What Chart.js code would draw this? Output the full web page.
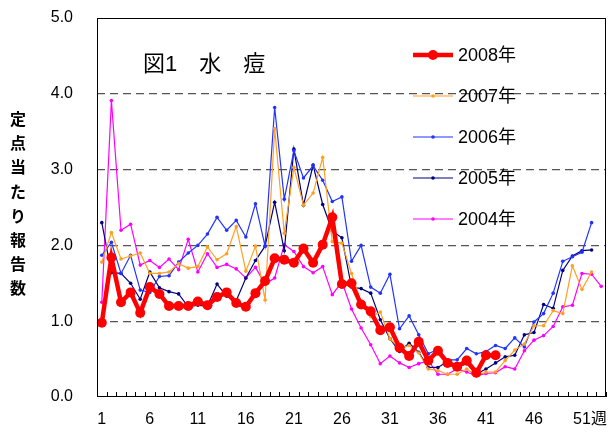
<!DOCTYPE html>
<html>
<head>
<meta charset="utf-8">
<script src="https://cdn.jsdelivr.net/npm/chart.js@4.4.1/dist/chart.umd.min.js"></script>
<style>
html, body { margin: 0; padding: 0; background: #fff; }
#wrap { width: 611px; height: 435px; }
</style>
</head>
<body>
<div id="wrap"><canvas id="chart" width="611" height="435"></canvas></div>
<script>
// weeks 1..53
const weeks = Array.from({ length: 53 }, (_, i) => String(i + 1));
const shownTicks = ['1', '6', '11', '16', '21', '26', '31', '36', '41', '46', '51'];
const yTicks = [0, 1, 2, 3, 4, 5];

const y2008 = [0.98, 1.84, 1.25, 1.38, 1.11, 1.45, 1.36, 1.20, 1.20, 1.20,
  1.26, 1.21, 1.32, 1.38, 1.24, 1.19, 1.37, 1.53, 1.83, 1.81,
  1.77, 1.96, 1.77, 2.01, 2.37, 1.49, 1.50, 1.22, 1.13, 0.88,
  0.92, 0.65, 0.54, 0.73, 0.48, 0.61, 0.45, 0.40, 0.48, 0.32,
  0.55, 0.55];
const y2007 = [1.78, 2.17, 1.82, 1.86, 1.90, 1.63, 1.63, 1.65, 1.76, 1.70,
  1.72, 1.98, 1.81, 1.89, 2.25, 1.66, 1.99, 1.28, 3.54, 2.16,
  3.03, 2.53, 2.69, 3.16, 2.05, 2.03, 1.63, 1.25, 1.06, 1.12,
  0.77, 0.64, 0.68, 0.58, 0.37, 0.35, 0.30, 0.30, 0.37, 0.28,
  0.33, 0.33, 0.48, 0.62, 0.70, 0.94, 0.94, 1.14, 1.10, 1.73,
  1.42, 1.65];
const y2006 = [1.87, 2.04, 1.63, 1.87, 1.41, 1.38, 1.59, 1.60, 1.78, 1.90,
  2.00, 2.15, 2.37, 2.20, 2.33, 2.11, 2.55, 1.99, 3.82, 2.61,
  3.25, 2.89, 3.05, 2.86, 2.58, 2.64, 1.79, 2.00, 1.45, 1.37,
  1.62, 0.90, 1.07, 0.82, 0.57, 0.63, 0.49, 0.49, 0.64, 0.57,
  0.60, 0.68, 0.64, 0.78, 0.66, 0.99, 1.10, 1.37, 1.79, 1.85,
  1.91, 2.30];
const y2005 = [2.30, 1.64, 1.63, 1.50, 1.29, 1.65, 1.44, 1.39, 1.36, 1.19,
  1.21, 1.20, 1.49, 1.33, 1.27, 1.57, 1.80, 1.99, 2.57, 1.93,
  3.27, 2.53, 3.06, 2.54, 2.19, 2.10, 1.45, 1.43, 1.37, 1.02,
  0.77, 0.60, 0.71, 0.59, 0.39, 0.39, 0.47, 0.39, 0.44, 0.30,
  0.37, 0.45, 0.53, 0.55, 0.82, 0.85, 1.22, 1.17, 1.67, 1.86,
  1.93, 1.94];
const y2004 = [1.25, 3.91, 2.20, 2.28, 1.74, 1.80, 1.71, 1.82, 1.68, 2.08,
  1.65, 1.89, 1.71, 1.75, 1.69, 1.57, 1.71, 1.49, 1.57, 2.01,
  1.92, 1.72, 1.64, 1.72, 1.35, 1.52, 1.16, 0.91, 0.69, 0.44,
  0.54, 0.45, 0.39, 0.44, 0.48, 0.30, 0.30, 0.37, 0.33, 0.28,
  0.31, 0.32, 0.40, 0.37, 0.61, 0.75, 0.81, 0.93, 1.19, 1.21,
  1.63, 1.62, 1.46];

const FONT = "'Liberation Sans', Arial, 'Noto Sans CJK JP', sans-serif";
Chart.defaults.font.family = FONT;
Chart.defaults.color = '#000';

function line(label, data, color, width, radius) {
  return {
    label: label,
    data: data,
    borderColor: color,
    backgroundColor: color,
    borderWidth: width,
    pointRadius: radius,
    pointHoverRadius: radius,
    pointBorderWidth: 0,
    tension: 0,
    fill: false
  };
}

const decorations = {
  id: 'decorations',
  afterDatasetsDraw(chart) {
    const { ctx, chartArea: a, scales: { x } } = chart;
    ctx.save();
    // plot frame
    ctx.strokeStyle = '#000';
    ctx.lineWidth = 1;
    ctx.strokeRect(a.left + 0.5, a.top + 0.5, a.width - 1, a.height - 1);
    // small inward ticks between the weeks
    const half = (x.getPixelForValue(1) - x.getPixelForValue(0)) / 2;
    ctx.beginPath();
    for (let i = 0; i <= weeks.length; i++) {
      const px = Math.round(x.getPixelForValue(i) - half) + 0.5;
      ctx.moveTo(px, a.bottom);
      ctx.lineTo(px, a.bottom - 5);
    }
    ctx.stroke();

    // chart title inside the plot
    ctx.fillStyle = '#000';
    ctx.textBaseline = 'middle';
    ctx.textAlign = 'left';
    ctx.font = '22px ' + FONT;
    ctx.fillText('図1　水　痘', a.left + 46, a.top + 47);

    // legend
    const lx = a.left + 316;
    chart.data.datasets.forEach((ds, i) => {
      const ly = a.top + 37 + i * 41;
      ctx.strokeStyle = ds.borderColor;
      ctx.lineWidth = ds.borderWidth;
      ctx.beginPath();
      ctx.moveTo(lx, ly);
      ctx.lineTo(lx + 40, ly);
      ctx.stroke();
      ctx.fillStyle = ds.borderColor;
      ctx.beginPath();
      ctx.arc(lx + 20, ly, ds.pointRadius, 0, Math.PI * 2);
      ctx.fill();
      ctx.fillStyle = '#000';
      ctx.font = '18px ' + FONT;
      ctx.fillText(ds.label, lx + 45, ly + 1);
    });

    // 週 after the last tick label
    ctx.font = '16px ' + FONT;
    const p51 = x.getPixelForValue(50);
    ctx.textBaseline = 'middle';
    ctx.fillText('週', p51 + ctx.measureText('51').width / 2, a.bottom + 23);

    // vertical y axis title, upright characters
    ctx.font = 'bold 16px ' + "'Noto Sans CJK JP', sans-serif";
    ctx.textAlign = 'center';
    const yTitle = '定点当たり報告数';
    for (let i = 0; i < yTitle.length; i++) {
      ctx.fillText(yTitle[i], 18, 119 + i * 24.2);
    }
    ctx.restore();
  }
};

new Chart(document.getElementById('chart'), {
  type: 'line',
  data: {
    labels: weeks,
    datasets: [
      line('2008年', y2008, '#ff0000', 4.5, 5),
      line('2007年', y2007, '#ffa020', 1.2, 1.8),
      line('2006年', y2006, '#2233ff', 1.2, 1.8),
      line('2005年', y2005, '#000080', 1.2, 1.8),
      line('2004年', y2004, '#ff00ff', 1.2, 1.8)
    ]
  },
  options: {
    responsive: false,
    animation: false,
    devicePixelRatio: 1,
    layout: { padding: { left: 0, right: 4, top: 18, bottom: 0 } },
    plugins: {
      legend: { display: false },
      title: { display: false },
      tooltip: { enabled: false }
    },
    scales: {
      x: {
        type: 'category',
        offset: true,
        grid: { display: false, drawTicks: false },
        border: { display: false },
        afterFit(scale) {
          scale.height = 38;
          scale.paddingLeft = 0;
          scale.paddingRight = 0;
        },
        ticks: {
          autoSkip: false,
          maxRotation: 0,
          padding: 13,
          font: { size: 16 },
          callback(value) {
            const lab = weeks[value];
            return shownTicks.includes(lab) ? lab : '';
          }
        }
      },
      y: {
        min: 0,
        max: 5,
        afterFit(scale) {
          scale.width = 97;
          scale.paddingTop = 0;
          scale.paddingBottom = 0;
        },
        afterBuildTicks(scale) { scale.ticks = yTicks.map(v => ({ value: v })); },
        border: { display: false, dash: [8, 5] },
        grid: {
          drawTicks: false,
          lineWidth: 1.3,
          color: (c) => (c.tick && (c.tick.value === 0 || c.tick.value === 5)) ? 'rgba(0,0,0,0)' : '#555'
        },
        ticks: {
          padding: 24,
          font: { size: 16 },
          callback: (v) => v.toFixed(1)
        }
      }
    }
  },
  plugins: [decorations]
});
</script>
</body>
</html>
